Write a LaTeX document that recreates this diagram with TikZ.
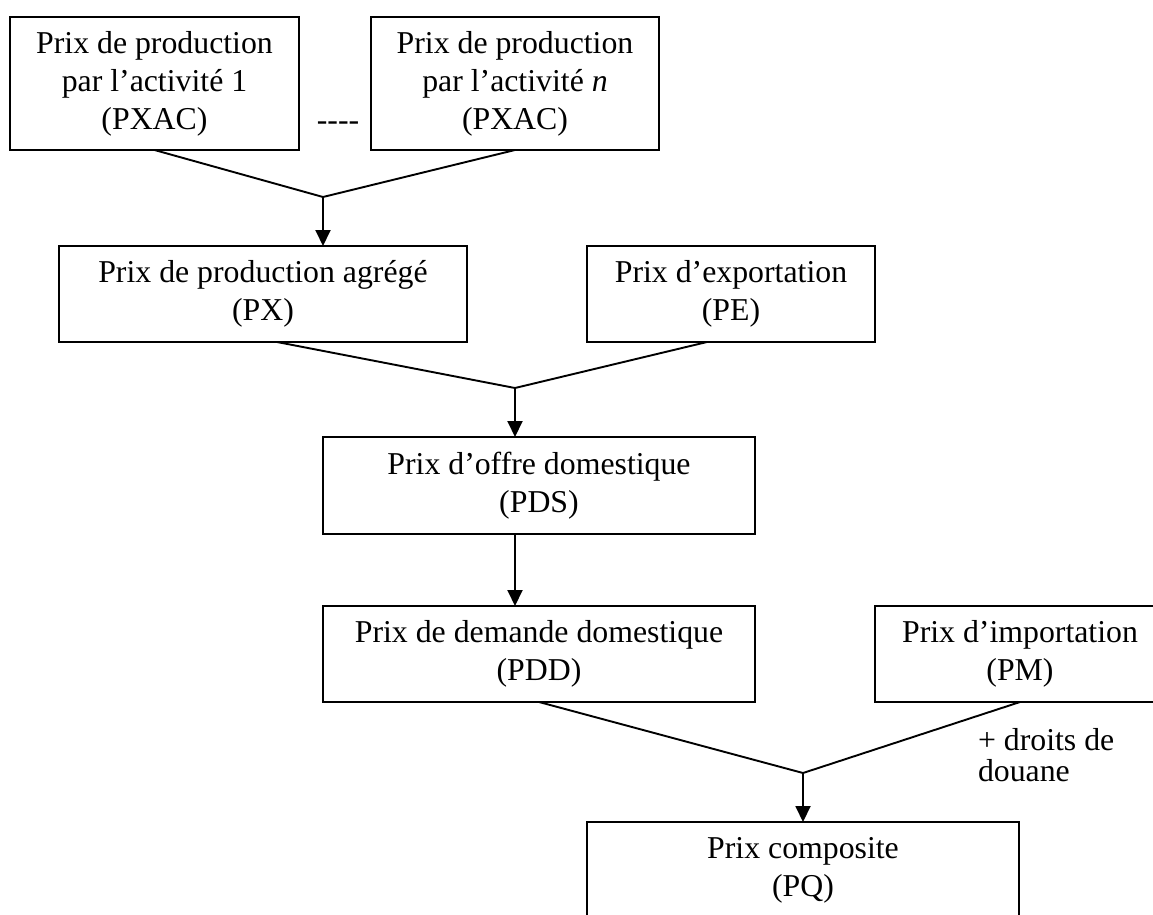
\documentclass[tikz,border=0pt]{standalone}
\usepackage{fontspec}
\setmainfont{Liberation Serif}
\usetikzlibrary{arrows.meta,calc}
\begin{document}
\begin{tikzpicture}[x=1pt,y=-1pt,
  box/.style={draw, line width=2.2pt, inner sep=0pt, outer sep=0pt, align=center,
    font=\rmfamily\fontsize{31.8}{38}\selectfont},
  lbl/.style={inner sep=0pt, outer sep=0pt, font=\rmfamily\fontsize{31.8}{31}\selectfont},
  link/.style={line width=1.9pt, line join=miter},
  arr/.style={line width=1.9pt, -{Triangle[length=16pt,width=15pt]}}]
\useasboundingbox (0,0) rectangle (1153,914);
\fill[white] (0,0) rectangle (1153,914);
\clip (0,0) rectangle (1153,914);
% boxes
\node[box, minimum width=289pt, minimum height=133pt] (b1) at (154.5,83.5)
  {Prix de production\\par l’activité 1\\(PXAC)};
\node[box, minimum width=288pt, minimum height=133pt] (b2) at (515,83.5)
  {Prix de production\\par l’activité \textit{n}\\(PXAC)};
\node[lbl, anchor=base] (dots) at (338,130) {\mbox{-}\mbox{-}\mbox{-}\mbox{-}};
\node[box, minimum width=408pt, minimum height=96pt] (px) at (263,294)
  {Prix de production agrégé\\(PX)};
\node[box, minimum width=288pt, minimum height=96pt] (pe) at (731,294)
  {Prix d’exportation\\(PE)};
\node[box, minimum width=432pt, minimum height=97pt] (pds) at (539,485.5)
  {Prix d’offre domestique\\(PDS)};
\node[box, minimum width=432pt, minimum height=96pt] (pdd) at (539,654)
  {Prix de demande domestique\\(PDD)};
\node[box, minimum width=290pt, minimum height=96pt] (pm) at (1020,654)
  {Prix d’importation\\(PM)};
\node[box, minimum width=432pt, minimum height=97pt] (pq) at (803,870.5)
  {Prix composite\\(PQ)};
\node[lbl, align=left, anchor=north west] (dd) at (978,728) {+ droits de\\douane};
% junctions
\coordinate (j1) at (323,197);
\coordinate (j2) at (515,388);
\coordinate (j3) at (803,773);
% connectors
\draw[link] (b1.south) -- (j1) -- (b2.south);
\draw[arr] (j1) -- (j1 |- px.north);
\draw[link] ([xshift=14pt]px.south) -- (j2) -- ([xshift=-24pt]pe.south);
\draw[arr] (j2) -- (j2 |- pds.north);
\draw[arr] (j2 |- pds.south) -- (j2 |- pdd.north);
\draw[link] (pdd.south) -- (j3) -- (pm.south);
\draw[arr] (j3) -- (j3 |- pq.north);
\end{tikzpicture}
\end{document}
